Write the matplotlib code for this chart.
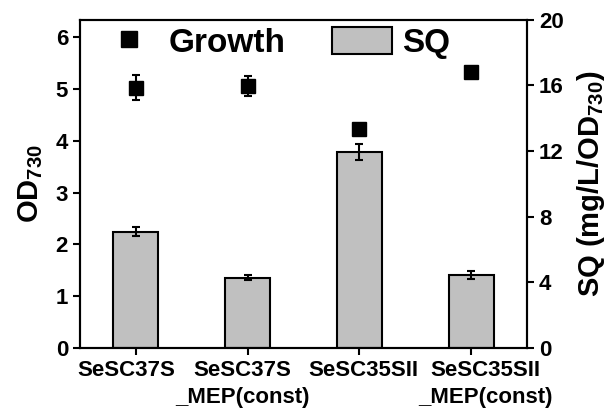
import matplotlib.pyplot as plt
from matplotlib.lines import Line2D
from matplotlib.patches import Patch

plt.rcParams['font.family'] = ['Liberation Sans', 'DejaVu Sans']
plt.rcParams['font.weight'] = 'bold'
plt.rcParams['mathtext.fontset'] = 'custom'
plt.rcParams['mathtext.rm'] = 'Liberation Sans:bold'
plt.rcParams['mathtext.bf'] = 'Liberation Sans:bold'
plt.rcParams['mathtext.default'] = 'rm'

strains = ["SeSC37S", "SeSC37S\n_MEP(const)", "SeSC35SII", "SeSC35SII\n_MEP(const)"]
sq = [7.1, 4.3, 11.95, 4.45]
sq_err = [0.28, 0.17, 0.5, 0.25]
growth = [5.02, 5.06, 4.23, 5.33]
growth_err = [0.24, 0.19, 0.04, 0.04]

x = list(range(len(strains)))
fig = plt.figure(figsize=(6.1, 4.12), dpi=100)
ax = fig.add_axes([0.131, 0.155, 0.733, 0.797])

# bars on the main axes (right scale), markers on the twin (left scale) so they sit on top
ax.bar(x, sq, width=0.4, color='#c0c0c0', edgecolor='black', linewidth=1.5,
       yerr=sq_err, error_kw=dict(ecolor='black', elinewidth=1.5, capsize=3, capthick=1.5))
ax.set_ylim(0, 20)
ax.set_xlim(-0.5, 3.5)
ax.set_xticks(x)
ax.set_xticklabels([])
# category labels sit a little off their ticks in the original
for i, (name, dx) in enumerate(zip(strains, [-7, -4, 3, 10])):
    ax.annotate(name, xy=(i, 0), xycoords=('data', 'axes fraction'),
                xytext=(dx, -8.5), textcoords='offset points', ha='center', va='top',
                fontsize=16, fontweight='bold', linespacing=1.35, annotation_clip=False)

ax2 = ax.twinx()
ax2.errorbar(x, growth, yerr=growth_err, fmt='s', color='black', markersize=10,
             elinewidth=1.5, capsize=3, capthick=1.5)
ax2.set_ylim(0, 6.33)
ax2.set_yticks(range(7))
ax2.yaxis.tick_left()
ax2.yaxis.set_label_position('left')
ax2.set_ylabel("OD$_{730}$", fontsize=21, fontweight='bold', labelpad=8)

ax.yaxis.tick_right()
ax.yaxis.set_label_position('right')
ax.set_yticks([0, 4, 8, 12, 16, 20])
ax.set_ylabel("SQ (mg/L/OD$_{730}$)", fontsize=21, fontweight='bold', labelpad=8)

for a in (ax, ax2):
    for s in a.spines.values():
        s.set_linewidth(1.5)
    a.tick_params(width=1.5, length=5, labelsize=16, direction='out')

handles = [Line2D([], [], marker='s', color='black', linestyle='none', markersize=11),
           Patch(facecolor='#c0c0c0', edgecolor='black', linewidth=1.5)]
ax2.legend(handles, ["Growth", "SQ"], ncol=2, frameon=False, prop=dict(size=24, weight='bold'),
           loc='center', bbox_to_anchor=(0.435, 0.93), handlelength=1.8, handleheight=0.9,
           handletextpad=0.3, columnspacing=1.4)

fig.savefig("out.png", dpi=100)
